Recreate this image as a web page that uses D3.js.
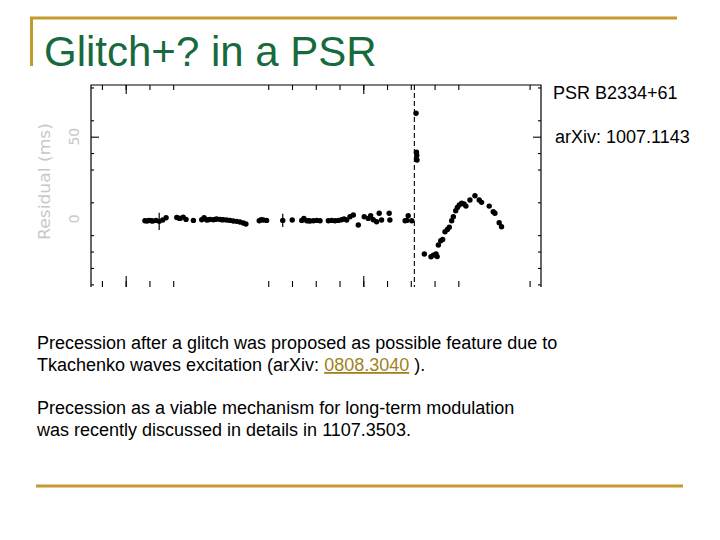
<!DOCTYPE html>
<html>
<head>
<meta charset="utf-8">
<script src="https://cdn.jsdelivr.net/npm/d3@7"></script>
<style>
  body { margin: 0; background: #fff; }
  svg { display: block; }
</style>
</head>
<body>
<div class="slide"></div>
<script>
// timing residuals of PSR B2334+61 (MJD, ms)
const mjd = [
  52481, 52490, 52499, 52507, 52514, 52528, 52541, 52556, 52570,
  52615, 52622, 52629, 52642, 52654, 52685,
  52720, 52730, 52741, 52748, 52755, 52769, 52776, 52783, 52797, 52804, 52811, 52825, 52839, 52853, 52867, 52881, 52895, 52906,
  52962, 52970, 52979, 52993, 53061, 53101,
  53141, 53150, 53162, 53169, 53176, 53190, 53204, 53218,
  53253, 53267, 53281, 53295, 53309, 53319, 53330, 53344, 53358, 53379,
  53404, 53421, 53431, 53442, 53456, 53467, 53477, 53509, 53512,
  53576, 53583, 53589, 53604,
  53622, 53624, 53625, 53626,
  53657, 53685, 53695, 53706, 53711, 53716, 53726, 53734, 53744, 53754, 53762, 53772, 53779,
  53789, 53796, 53804, 53814, 53824, 53832, 53849, 53870, 53888, 53898, 53930, 53947, 53954, 53972, 53982
];
const residual = [
  -1.2, -1.4, -1.0, -1.2, -1.4, -1.0, -1.6, -0.8, 0.6,
  0.8, 0.4, 0.2, 1.0, -0.4, -1.0,
  -0.6, 0.6, -0.8, -0.6, -0.4, -0.6, -0.4, -0.2, -0.4, -0.6, -0.6, -0.8, -1.0, -1.4, -1.6, -2.0, -2.6, -3.2,
  -1.2, -0.6, -0.8, -1.0, -1.0, -0.8,
  -1.0, 0.2, -1.2, -1.2, -1.4, -1.2, -1.0, -1.2,
  -1.2, -1.0, -1.2, -1.0, -0.6, -0.2, -0.8, 1.2, 2.3, -3.8,
  1.2, 0.2, 1.8, -0.6, -1.8, 3.3, -0.8, 3.3, -0.8,
  -1.2, -1.0, 1.8, -1.2,
  64.3, 40.5, 38.5, 35.8,
  -21.5, -23.2, -22.2, -21.5, -23.0, -16.0, -13.4, -12.6, -7.9, -6.5, -5.2, -1.2, 1.2,
  4.9, 6.9, 8.4, 9.4, 9.0, 7.7, 11.4, 14.0, 11.4, 10.0, 7.7, 4.3, 3.3, -2.4, -4.9
];
// the few visible error bars
const errMjd = [52541, 53061];
const errSize = [5.2, 4.0];

const glitchMjd = 53615;

const xTicks = [52300, 52400, 52500, 52600, 53000, 53100, 53200, 53300, 53400, 53500, 53600, 53700, 53800, 54100];
const xMajor = [52400, 53400];
const yTicks = [80, 60, 40, 30, 10, -10, -20, -30, -40];
const yMajor = [50];
const yLabels = [50, 0];

const gold = "#c49a2c";

const svg = d3.select('.slide').append('svg')
    .attr('width', 720)
    .attr('height', 540);

/* slide decoration */
svg.append('line').attr('x1', 30).attr('x2', 677).attr('y1', 18).attr('y2', 18)
    .attr('stroke', gold).attr('stroke-width', 3);
svg.append('line').attr('x1', 31.5).attr('x2', 31.5).attr('y1', 17).attr('y2', 66)
    .attr('stroke', gold).attr('stroke-width', 3);
svg.append('line').attr('x1', 36).attr('x2', 683).attr('y1', 486).attr('y2', 486)
    .attr('stroke', gold).attr('stroke-width', 3);

svg.append('text')
    .attr('x', 44).attr('y', 66)
    .attr('font-family', 'Liberation Sans, Arial, sans-serif')
    .attr('font-size', 42)
    .attr('fill', '#176a3d')
    .text('Glitch+? in a PSR');

/* the plot */
const x = d3.scaleLinear().domain([52254, 54148]).range([91, 541]);
const y = d3.scaleLinear().domain([-41.6, 81.5]).range([287, 85]);

const plot = svg.append('g');

function tickAxis(axis, tx, ty) {
    const g = plot.append('g').attr('transform', `translate(${tx},${ty})`).call(axis);
    g.select('.domain').remove();
    g.selectAll('line').attr('stroke', '#000').attr('stroke-width', 1.1);
    return g;
}

// inward ticks on all four sides
tickAxis(d3.axisTop(x).tickValues(xTicks).tickSize(-5).tickFormat(''), 0, 85);
tickAxis(d3.axisTop(x).tickValues(xMajor).tickSize(-9).tickFormat(''), 0, 85);
tickAxis(d3.axisBottom(x).tickValues(xTicks).tickSize(-6).tickFormat(''), 0, 287);
tickAxis(d3.axisBottom(x).tickValues(xMajor).tickSize(-11).tickFormat(''), 0, 287);
tickAxis(d3.axisLeft(y).tickValues(yTicks).tickSize(-3).tickFormat(''), 91, 0);
tickAxis(d3.axisLeft(y).tickValues(yMajor).tickSize(-8).tickFormat(''), 91, 0);
tickAxis(d3.axisRight(y).tickValues(yTicks).tickSize(-3).tickFormat(''), 541, 0);
tickAxis(d3.axisRight(y).tickValues(yMajor).tickSize(-8).tickFormat(''), 541, 0);

// frame (bottom edge is cut off in the scan)
plot.append('path')
    .attr('d', `M${x.range()[0]},${y.range()[0]}V${y.range()[1]}H${x.range()[1]}V${y.range()[0]}`)
    .attr('fill', 'none')
    .attr('stroke', '#000')
    .attr('stroke-width', 1.2);

// glitch epoch
plot.append('line')
    .attr('x1', x(glitchMjd)).attr('x2', x(glitchMjd))
    .attr('y1', y.range()[1]).attr('y2', y.range()[0])
    .attr('stroke', '#000')
    .attr('stroke-width', 1.1)
    .attr('stroke-dasharray', '5,3');

// faint tick labels and axis title
plot.selectAll('.ylab')
    .data(yLabels)
    .enter().append('text')
    .attr('class', 'ylab')
    .attr('transform', d => `translate(79,${y(d)}) rotate(-90)`)
    .attr('text-anchor', 'middle')
    .attr('font-family', 'DejaVu Sans, sans-serif')
    .attr('font-size', 14)
    .attr('fill', '#c8c8c8')
    .text(d => d);

plot.append('text')
    .attr('transform', `translate(50,${(123 + 240) / 2}) rotate(-90)`)
    .attr('text-anchor', 'middle')
    .attr('font-family', 'DejaVu Sans, sans-serif')
    .attr('font-size', 16)
    .attr('textLength', 117)
    .attr('lengthAdjust', 'spacingAndGlyphs')
    .attr('fill', '#c8c8c8')
    .text('Residual (ms)');

// error bars
plot.selectAll('.err')
    .data(errMjd)
    .enter().append('line')
    .attr('class', 'err')
    .attr('x1', d => x(d)).attr('x2', d => x(d))
    .attr('y1', (d, i) => y(residual[mjd.indexOf(d)] + errSize[i]))
    .attr('y2', (d, i) => y(residual[mjd.indexOf(d)] - errSize[i]))
    .attr('stroke', '#000')
    .attr('stroke-width', 1.2);

// residual points
plot.selectAll('circle')
    .data(mjd)
    .enter().append('circle')
    .attr('cx', d => x(d))
    .attr('cy', (d, i) => y(residual[i]))
    .attr('r', 2.7)
    .attr('fill', '#000');

/* texts beside and below the plot */
const font = 'Liberation Sans, Arial, sans-serif';

svg.append('text').attr('x', 553).attr('y', 99)
    .attr('font-family', font).attr('font-size', 18).attr('fill', '#000')
    .text('PSR B2334+61');
svg.append('text').attr('x', 555).attr('y', 143)
    .attr('font-family', font).attr('font-size', 18).attr('fill', '#000')
    .text('arXiv: 1007.1143');

const body = svg.append('text')
    .attr('font-family', font).attr('font-size', 18).attr('fill', '#000');

body.append('tspan').attr('x', 37).attr('y', 349)
    .text('Precession after a glitch was proposed as possible feature due to');
const l2 = body.append('tspan').attr('x', 37).attr('y', 371);
l2.append('tspan').text('Tkachenko waves excitation (arXiv: ');
l2.append('tspan').attr('fill', '#a0821e').attr('text-decoration', 'underline').text('0808.3040');
l2.append('tspan').text(' ).');

body.append('tspan').attr('x', 37).attr('y', 414)
    .text('Precession as a viable mechanism for long-term modulation');
body.append('tspan').attr('x', 37).attr('y', 436)
    .text('was recently discussed in details in 1107.3503.');
</script>
</body>
</html>
